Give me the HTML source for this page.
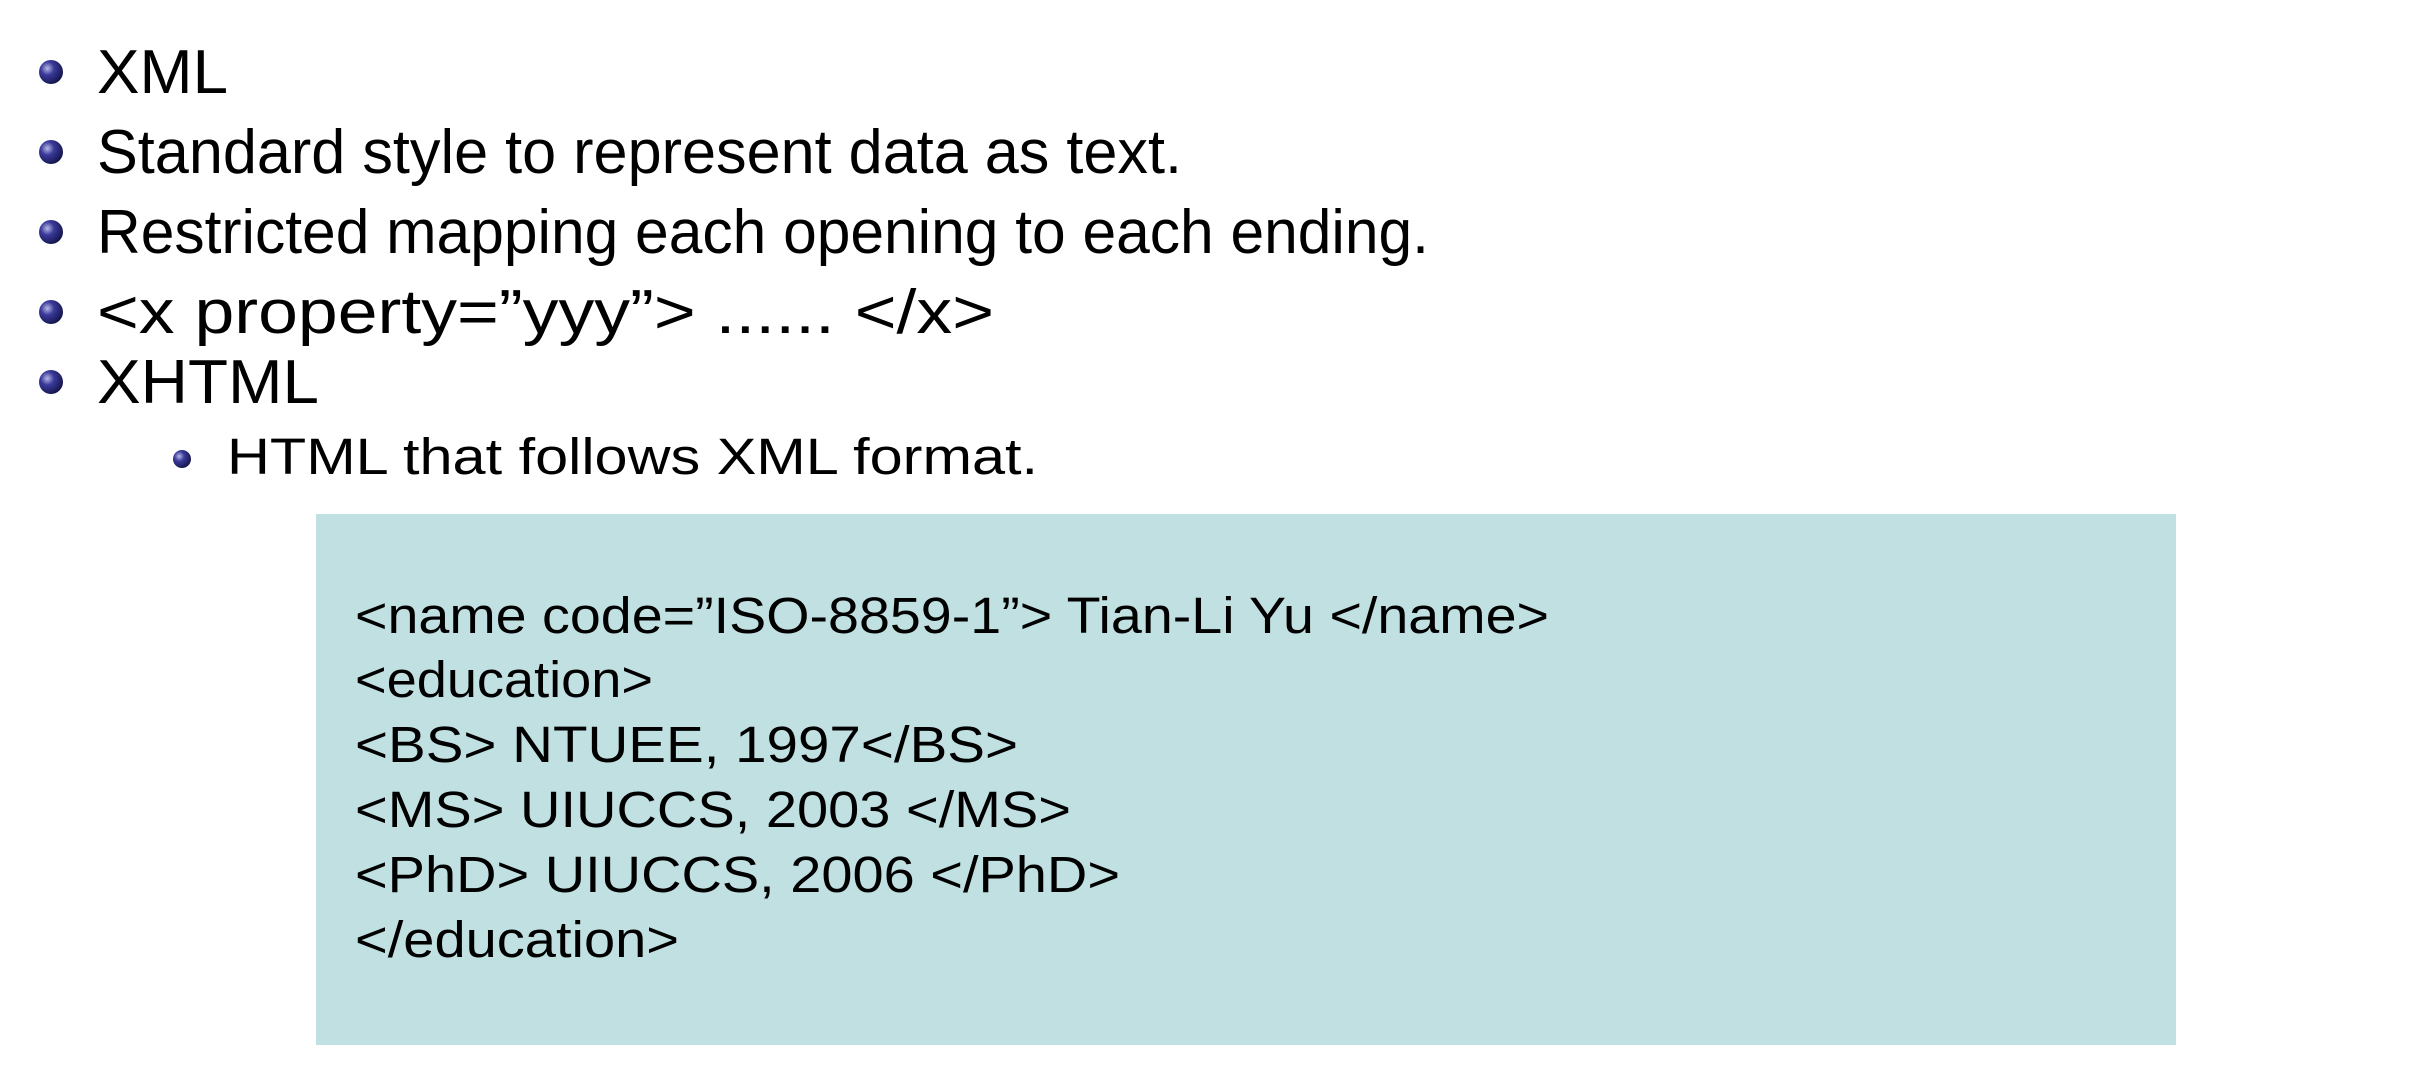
<!DOCTYPE html>
<html><head><meta charset="utf-8"><style>
html,body{margin:0;padding:0;background:#fff;}
svg{display:block;}
text{font-family:"Liberation Sans",sans-serif;fill:#000;}
</style></head><body>
<svg width="2420" height="1088" viewBox="0 0 2420 1088" xmlns="http://www.w3.org/2000/svg">
<defs>
<radialGradient id="b" cx="0.35" cy="0.35" r="0.7">
<stop offset="0" stop-color="#b8b8e8"/><stop offset="0.4" stop-color="#3a3a9a"/><stop offset="1" stop-color="#14144a"/>
</radialGradient>
</defs>
<rect width="2420" height="1088" fill="#fff"/>
<g>
<circle cx="51" cy="72" r="12" fill="url(#b)"/>
<circle cx="51" cy="152" r="12" fill="url(#b)"/>
<circle cx="51" cy="232" r="12" fill="url(#b)"/>
<circle cx="51" cy="312" r="12" fill="url(#b)"/>
<circle cx="51" cy="382" r="12" fill="url(#b)"/>
<circle cx="182" cy="459" r="9" fill="url(#b)"/>
</g>
<g font-size="62">
<text x="97" y="93" textLength="131" lengthAdjust="spacingAndGlyphs">XML</text>
<text x="97" y="173" textLength="1085" lengthAdjust="spacingAndGlyphs">Standard style to represent data as text.</text>
<text x="97" y="253" textLength="1332" lengthAdjust="spacingAndGlyphs">Restricted mapping each opening to each ending.</text>
<text x="97" y="333" textLength="897" lengthAdjust="spacingAndGlyphs">&lt;x property=”yyy”&gt; ...... &lt;/x&gt;</text>
<text x="97" y="403" textLength="222" lengthAdjust="spacingAndGlyphs">XHTML</text>
</g>
<text x="227" y="474" font-size="51" textLength="811" lengthAdjust="spacingAndGlyphs">HTML that follows XML format.</text>
<rect x="316" y="514" width="1860" height="531" fill="#c1e0e2"/>
<g font-size="51">
<text x="355" y="633" textLength="1194" lengthAdjust="spacingAndGlyphs">&lt;name code=”ISO-8859-1”&gt; Tian-Li Yu &lt;/name&gt;</text>
<text x="355" y="697" textLength="298" lengthAdjust="spacingAndGlyphs">&lt;education&gt;</text>
<text x="355" y="762" textLength="663" lengthAdjust="spacingAndGlyphs">&lt;BS&gt; NTUEE, 1997&lt;/BS&gt;</text>
<text x="355" y="827" textLength="716" lengthAdjust="spacingAndGlyphs">&lt;MS&gt; UIUCCS, 2003 &lt;/MS&gt;</text>
<text x="355" y="892" textLength="765" lengthAdjust="spacingAndGlyphs">&lt;PhD&gt; UIUCCS, 2006 &lt;/PhD&gt;</text>
<text x="355" y="957" textLength="324" lengthAdjust="spacingAndGlyphs">&lt;/education&gt;</text>
</g>
</svg>
</body></html>
